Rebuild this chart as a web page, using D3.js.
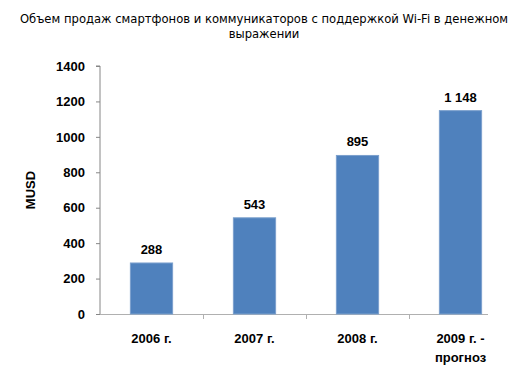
<!DOCTYPE html>
<html>
<head>
<meta charset="utf-8">
<script src="https://cdn.jsdelivr.net/npm/d3@7"></script>
<style>
  body { margin: 0; background: #fff; }
  svg { display: block; }
</style>
</head>
<body>
<svg id="chart" width="531" height="378"></svg>
<script>
// data
var titleLines = ["Объем продаж смартфонов и коммуникаторов с поддержкой Wi-Fi в денежном", "выражении"];
var categories = [["2006 г."], ["2007 г."], ["2008 г."], ["2009 г. -", "прогноз"]];
var values = [288, 543, 895, 1148];
var valueLabels = ["288", "543", "895", "1 148"];
var yTicks = [0, 200, 400, 600, 800, 1000, 1200, 1400];
var yTitle = "MUSD";

var svg = d3.select("#chart");
var plotLeft = 100, plotTop = 66, plotBottom = 314, axisEnd = 488;

var x = d3.scaleBand()
  .domain(d3.range(values.length))
  .range([plotLeft, 512])
  .paddingInner(0.59)
  .paddingOuter(0.295);

var y = d3.scaleLinear()
  .domain([0, 1400])
  .range([plotBottom, plotTop]);

/** title */
svg.append("text")
  .attr("x", 264)
  .attr("y", 23)
  .attr("text-anchor", "middle")
  .style("font-family", "'DejaVu Sans'")
  .style("font-size", "11.6px")
  .style("fill", "#000")
  .selectAll("tspan")
  .data(titleLines)
  .join("tspan")
    .attr("x", 264)
    .attr("dy", (d, i) => i === 0 ? 0 : 15)
    .text(d => d);

/** y axis */
var gy = svg.append("g")
  .attr("transform", `translate(${plotLeft},0)`)
  .call(d3.axisLeft(y).tickValues(yTicks).tickSize(4).tickPadding(11).tickFormat(d3.format("d")));
gy.select(".domain").attr("stroke", "#868686").attr("d", `M-4,${plotTop}H0V${plotBottom}`);
gy.selectAll(".tick line").attr("stroke", "#868686");
gy.selectAll(".tick text")
  .style("font-family", "'Liberation Sans', Arial, sans-serif")
  .style("font-size", "13px")
  .style("font-weight", "bold")
  .style("fill", "#000");

svg.append("text")
  .attr("transform", `translate(35,${(plotTop + plotBottom) / 2}) rotate(-90)`)
  .attr("text-anchor", "middle")
  .style("font-family", "'Liberation Sans', Arial, sans-serif")
  .style("font-size", "13px")
  .style("font-weight", "bold")
  .text(yTitle);

/** x axis line and ticks between categories */
svg.append("line")
  .attr("x1", plotLeft).attr("x2", axisEnd)
  .attr("y1", plotBottom + 0.5).attr("y2", plotBottom + 0.5)
  .attr("stroke", "#b0b0b0");
svg.selectAll(".xtick")
  .data(d3.range(1, values.length))
  .join("line")
  .attr("class", "xtick")
  .attr("x1", d => Math.round(x(d) - x.step() * x.paddingInner() / 2) + 0.5)
  .attr("x2", d => Math.round(x(d) - x.step() * x.paddingInner() / 2) + 0.5)
  .attr("y1", plotBottom)
  .attr("y2", plotBottom + 5)
  .attr("stroke", "#b0b0b0");

/** bars */
svg.selectAll(".bar")
  .data(values)
  .join("rect")
  .attr("class", "bar")
  .attr("x", (d, i) => x(i))
  .attr("y", d => y(d))
  .attr("width", x.bandwidth())
  .attr("height", d => plotBottom - y(d))
  .attr("fill", "#4f81bd")
  .attr("stroke", "#7ba0cd")
  .attr("stroke-width", 1);

/** value labels */
svg.selectAll(".vlabel")
  .data(values)
  .join("text")
  .attr("class", "vlabel")
  .attr("x", (d, i) => x(i) + x.bandwidth() / 2)
  .attr("y", d => y(d) - 9)
  .attr("text-anchor", "middle")
  .style("font-family", "'Liberation Sans', Arial, sans-serif")
  .style("font-size", "13px")
  .style("font-weight", "bold")
  .text((d, i) => valueLabels[i]);

/** category labels */
svg.selectAll(".clabel")
  .data(categories)
  .join("text")
  .attr("class", "clabel")
  .attr("x", (d, i) => x(i) + x.bandwidth() / 2)
  .attr("y", 343)
  .attr("text-anchor", "middle")
  .style("font-family", "'Liberation Sans', Arial, sans-serif")
  .style("font-size", "13px")
  .style("font-weight", "bold")
  .each(function(d, i) {
    d3.select(this).selectAll("tspan")
      .data(d)
      .join("tspan")
      .attr("x", x(i) + x.bandwidth() / 2)
      .attr("dy", (t, j) => j === 0 ? 0 : 19)
      .text(t => t);
  });
</script>
</body>
</html>
